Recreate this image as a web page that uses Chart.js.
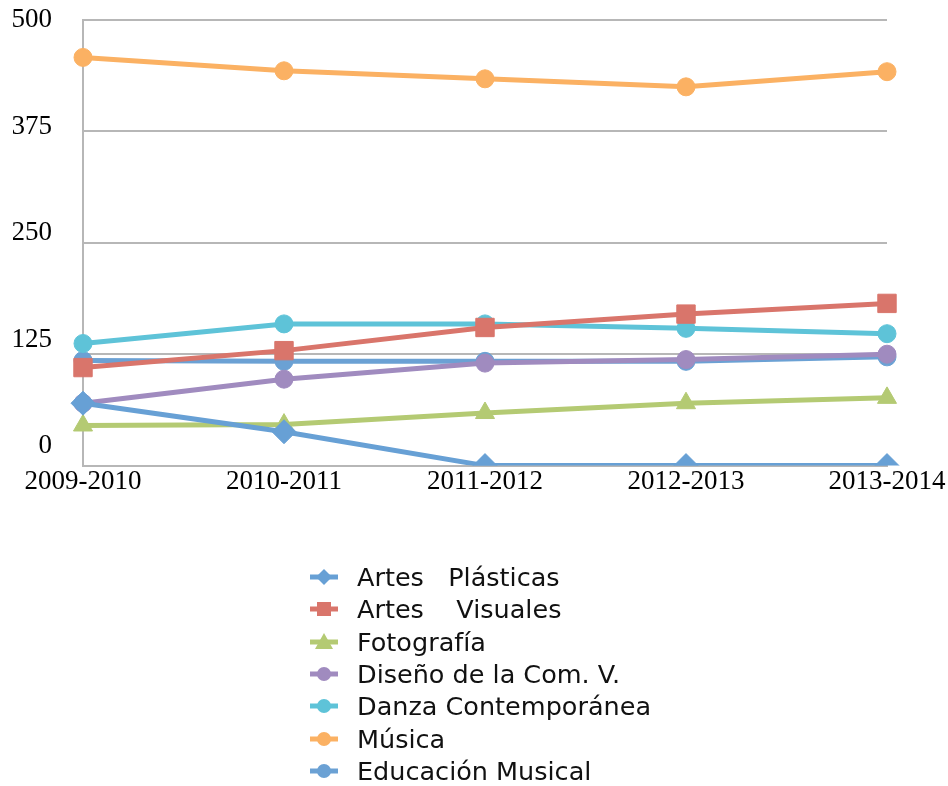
<!DOCTYPE html>
<html>
<head>
<meta charset="utf-8">
<script src="https://cdn.jsdelivr.net/npm/chart.js@4"></script>
<style>
  body { margin: 0; background: #fff; }
  #wrap { position: relative; width: 948px; height: 786px; }
  #legend { position: absolute; left: 308px; top: 561px; }
  .item { display: flex; align-items: center; height: 32.3px; font-family: "DejaVu Sans", sans-serif; font-size: 25.5px; color: #111; white-space: pre; }
  .item canvas { margin-right: 17px; }
</style>
</head>
<body>
<div id="wrap">
  <canvas id="chart"></canvas>
  <div id="legend"></div>
</div>
<script>
document.addEventListener("DOMContentLoaded", function () {

    const years = ["2009-2010", "2010-2011", "2011-2012", "2012-2013", "2013-2014"];

    const artesPlasticas = [70, 38, 0, 0, 0];
    const artesVisuales = [110, 129, 155, 170, 182];
    const fotografia = [45, 46, 59, 70, 76];
    const disenoCom = [70, 97, 115, 119, 125];
    const danza = [137, 159, 159, 154, 148];
    const musica = [458, 443, 434, 425, 442];
    const educacionMusical = [118, 117, 117, 117, 122];

    const yTicks = [0, 125, 250, 375, 500];

    function series(label, data, color, style, radius) {
        return {
            label: label,
            data: data,
            borderColor: color,
            backgroundColor: color,
            borderWidth: 5,
            pointStyle: style,
            pointRadius: radius,
            pointHoverRadius: radius,
            pointBorderWidth: 1,
            pointBorderColor: color,
            tension: 0
        };
    }

    const datasets = [
        series("Artes   Plásticas", artesPlasticas, "#67a0d5", "rectRot", 12),
        series("Artes    Visuales", artesVisuales, "#d9756b", "rect", 13),
        series("Fotografía", fotografia, "#b4ca73", "triangle", 11),
        series("Diseño de la Com. V.", disenoCom, "#a08bbf", "circle", 9),
        series("Danza Contemporánea", danza, "#5ec3d8", "circle", 9),
        series("Música", musica, "#fbb163", "circle", 9),
        series("Educación Musical", educacionMusical, "#6ba1d4", "circle", 9)
    ];

    const tickFont = { family: "'Liberation Serif', serif", size: 27 };
    const ctx = document.getElementById("chart").getContext("2d");

    const chart = new Chart(ctx, {
        type: "line",
        data: { labels: years, datasets: datasets },
        options: {
            responsive: true,
            maintainAspectRatio: false,
            animation: false,
            layout: { padding: { left: 13, right: 61, top: 20, bottom: 288 } },
            plugins: { legend: { display: false }, tooltip: { enabled: false } },
            scales: {
                x: {
                    offset: false,
                    grid: { display: false, drawTicks: false },
                    border: { display: true, color: "#b7b7b7", width: 2 },
                    ticks: { color: "#000", padding: 0, maxRotation: 0, font: tickFont }
                },
                y: {
                    min: 0,
                    max: 500,
                    afterBuildTicks: function (axis) {
                        axis.ticks = yTicks.map(v => ({ value: v }));
                    },
                    afterFit: function (axis) {
                        axis.width = 0;
                        axis.paddingTop = 0;
                        axis.paddingBottom = 0;
                    },
                    grid: { color: "#b7b7b7", lineWidth: 2, drawTicks: false },
                    border: { display: true, color: "#b7b7b7", width: 2 },
                    ticks: { display: false }
                },
                // label axis: the original's value labels sit a little above their grid lines
                yLabels: {
                    position: "left",
                    min: -23,
                    max: 500,
                    afterBuildTicks: function (axis) {
                        axis.ticks = yTicks.map(v => ({ value: v }));
                    },
                    afterFit: function (axis) {
                        axis.width = 70;
                        axis.paddingTop = 0;
                        axis.paddingBottom = 0;
                    },
                    grid: { display: false, drawTicks: false },
                    border: { display: false },
                    ticks: { color: "#000", padding: 31, font: tickFont }
                }
            }
        }
    });

    // legend built from the datasets, one row per series
    const legend = document.getElementById("legend");
    chart.data.datasets.forEach(function (ds) {
        const row = document.createElement("div");
        row.className = "item";
        const icon = document.createElement("canvas");
        icon.width = 32;
        icon.height = 24;
        const g = icon.getContext("2d");
        g.strokeStyle = ds.borderColor;
        g.fillStyle = ds.backgroundColor;
        g.lineWidth = 5;
        g.beginPath();
        g.moveTo(2, 12);
        g.lineTo(30, 12);
        g.stroke();
        const cx = 16, cy = 12, r = 8;
        g.beginPath();
        if (ds.pointStyle === "rect") {
            g.rect(cx - 7, cy - 7, 14, 14);
        } else if (ds.pointStyle === "rectRot") {
            g.moveTo(cx, cy - r); g.lineTo(cx + r, cy); g.lineTo(cx, cy + r); g.lineTo(cx - r, cy);
            g.closePath();
        } else if (ds.pointStyle === "triangle") {
            g.moveTo(cx, cy - 9); g.lineTo(cx + 9, cy + 7); g.lineTo(cx - 9, cy + 7);
            g.closePath();
        } else {
            g.arc(cx, cy, 7, 0, Math.PI * 2);
        }
        g.fill();
        const text = document.createElement("span");
        text.textContent = ds.label;
        row.appendChild(icon);
        row.appendChild(text);
        legend.appendChild(row);
    });

});
</script>
</body>
</html>
